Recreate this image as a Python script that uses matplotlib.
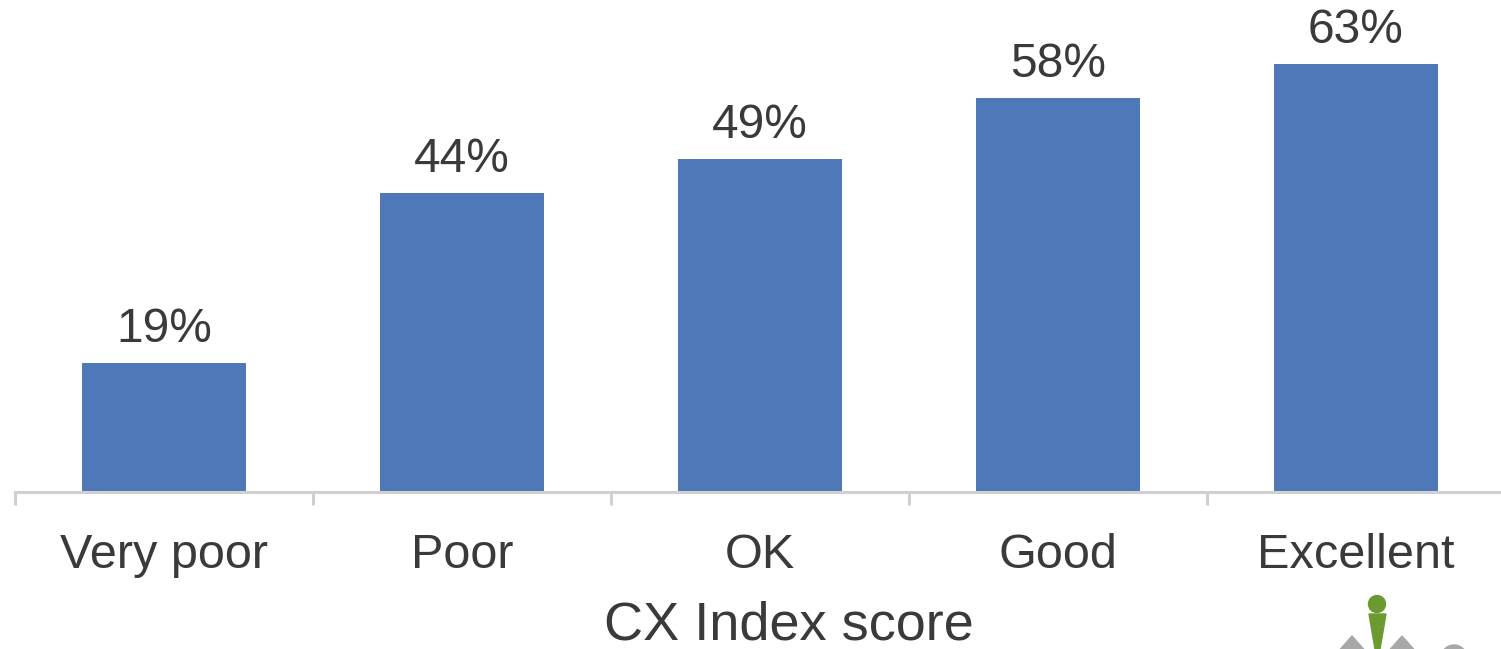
"""
Bar chart: share by CX Index score band, with percentage labels above each bar.
"""

import matplotlib.pyplot as plt
from matplotlib.patches import Ellipse, Polygon

CATEGORIES = ['Very poor', 'Poor', 'OK', 'Good', 'Excellent']
VALUES = [19, 44, 49, 58, 63]
X_LABEL = 'CX Index score'

BAR_COLOR = '#4E78B8'
TEXT_COLOR = '#3A3A3A'
AXIS_COLOR = '#D0D0D0'

W, H = 1501, 649

plt.rcParams['font.family'] = ['Liberation Sans', 'DejaVu Sans']


def px(x, y):
    """Pixel position (from top-left) to figure fraction."""
    return x / W, 1 - y / H


def draw_logo(fig):
    """Rough copy of the small logo peeking in at the bottom right."""
    grey = '#A8A8A8'
    green = '#6A9A30'
    for cx in (1352, 1402):
        pts = [px(cx - 16, 654), px(cx, 636), px(cx + 16, 654)]
        fig.patches.append(Polygon(pts, closed=True, color=grey,
                                   transform=fig.transFigure))
    fig.patches.append(Ellipse(px(1454, 658), 26 / W, 26 / H, color=grey,
                               transform=fig.transFigure))
    stem = [px(1369, 614), px(1386, 614), px(1380, 649), px(1375, 649)]
    fig.patches.append(Polygon(stem, closed=True, color=green,
                               transform=fig.transFigure))
    fig.patches.append(Ellipse(px(1377, 604), 17 / W, 17 / H, color=green,
                               transform=fig.transFigure))


def plot_chart():
    fig = plt.figure(figsize=(W / 100, H / 100), dpi=100)
    left = 15 / W
    bottom = 1 - 492 / H
    ax = fig.add_axes([left, bottom, 1490 / W, 492 / H])

    pos = range(len(CATEGORIES))
    bars = ax.bar(pos, VALUES, width=0.55, color=BAR_COLOR)
    ax.set_xlim(-0.5, len(CATEGORIES) - 0.5)
    ax.set_ylim(0, 492 / 6.8)

    for bar, val in zip(bars, VALUES):
        ax.annotate(f'{val}%', (bar.get_x() + bar.get_width() / 2, val),
                    xytext=(0, 15), textcoords='offset points',
                    ha='center', va='baseline', fontsize=34.5, color=TEXT_COLOR)

    for side in ('top', 'right', 'left'):
        ax.spines[side].set_visible(False)
    ax.spines['bottom'].set_color(AXIS_COLOR)
    ax.spines['bottom'].set_linewidth(2.2)
    ax.set_yticks([])

    ax.set_xticks(list(pos))
    ax.set_xticklabels(CATEGORIES, fontsize=35, color=TEXT_COLOR)
    ax.tick_params(axis='x', which='major', length=0, pad=29.5)
    ax.set_xticks([i - 0.5 for i in range(len(CATEGORIES) + 1)], minor=True)
    ax.tick_params(axis='x', which='minor', length=9, width=2.2,
                   color=AXIS_COLOR)

    fig.text(789 / W, 1 - 639 / H, X_LABEL, ha='center', va='baseline',
             fontsize=39, color=TEXT_COLOR)

    draw_logo(fig)
    fig.savefig('out.png', dpi=100)


if __name__ == "__main__":
    plot_chart()
